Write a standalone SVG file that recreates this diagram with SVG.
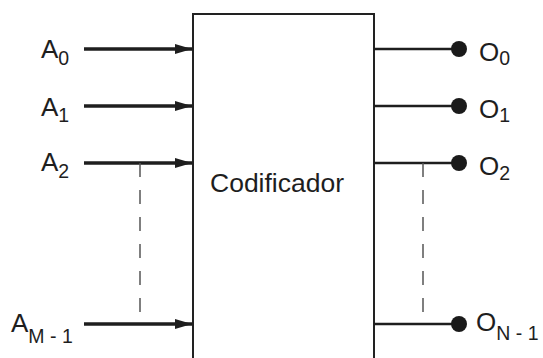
<svg xmlns="http://www.w3.org/2000/svg" width="543" height="358" viewBox="0 0 543 358">
  <defs>
    <style>
      .lbl { font-family: "Liberation Sans", Arial, sans-serif; font-size: 26px; fill: #1e1e1e; }
      .title { font-family: "Liberation Sans", Arial, sans-serif; font-size: 26.5px; fill: #1e1e1e; }
      .sub { font-size: 19.5px; }
      .in { stroke: #1e1e1e; stroke-width: 3.5; fill: none; }
      .out { stroke: #1e1e1e; stroke-width: 2.5; fill: none; }
      .dash { stroke: #555; stroke-width: 1.5; stroke-dasharray: 14 13; fill: none; }
      .dot { fill: #1a1a1a; }
    </style>
    <marker id="arrow" markerUnits="userSpaceOnUse" markerWidth="18" markerHeight="12" refX="17" refY="5" orient="auto">
      <path d="M0,0 L17,5 L0,10 Z" fill="#1e1e1e"/>
    </marker>
  </defs>

  <rect width="543" height="358" fill="#ffffff"/>

  <!-- encoder block -->
  <g id="codificador">
    <rect x="193" y="14" width="181" height="360" fill="#ffffff" stroke="#222" stroke-width="2"/>
    <text class="title" x="210" y="192">Codificador</text>
  </g>

  <!-- input and output lines -->
  <g id="connectors">
    <line class="in" x1="84" y1="49" x2="192" y2="49" marker-end="url(#arrow)"/>
    <line class="in" x1="84" y1="106" x2="192" y2="106" marker-end="url(#arrow)"/>
    <line class="in" x1="84" y1="163" x2="192" y2="163" marker-end="url(#arrow)"/>
    <line class="in" x1="84" y1="324" x2="192" y2="324" marker-end="url(#arrow)"/>

    <line class="out" x1="374" y1="49" x2="459" y2="49"/>
    <line class="out" x1="374" y1="106" x2="459" y2="106"/>
    <line class="out" x1="374" y1="163" x2="459" y2="163"/>
    <line class="out" x1="374" y1="324" x2="459" y2="324"/>

    <line class="dash" x1="140" y1="163" x2="140" y2="313"/>
    <line class="dash" x1="423" y1="163" x2="423" y2="313"/>
  </g>

  <!-- inputs -->
  <g id="in-a0"><text class="lbl" x="41" y="58">A<tspan class="sub" dy="7">0</tspan></text></g>
  <g id="in-a1"><text class="lbl" x="41" y="116">A<tspan class="sub" dy="6">1</tspan></text></g>
  <g id="in-a2"><text class="lbl" x="41" y="171">A<tspan class="sub" dy="7">2</tspan></text></g>
  <g id="in-am1"><text class="lbl" x="11" y="332">A<tspan class="sub" dy="11">M - 1</tspan></text></g>

  <!-- outputs -->
  <g id="out-o0">
    <circle class="dot" cx="459" cy="49" r="8"/>
    <text class="lbl" x="479" y="61">O<tspan class="sub" dy="4">0</tspan></text>
  </g>
  <g id="out-o1">
    <circle class="dot" cx="459" cy="106" r="8"/>
    <text class="lbl" x="479" y="118">O<tspan class="sub" dy="4">1</tspan></text>
  </g>
  <g id="out-o2">
    <circle class="dot" cx="459" cy="163" r="8"/>
    <text class="lbl" x="479" y="175">O<tspan class="sub" dy="5">2</tspan></text>
  </g>
  <g id="out-on1">
    <circle class="dot" cx="459" cy="324" r="8"/>
    <text class="lbl" x="476" y="331">O<tspan class="sub" dy="9">N - 1</tspan></text>
  </g>
</svg>
